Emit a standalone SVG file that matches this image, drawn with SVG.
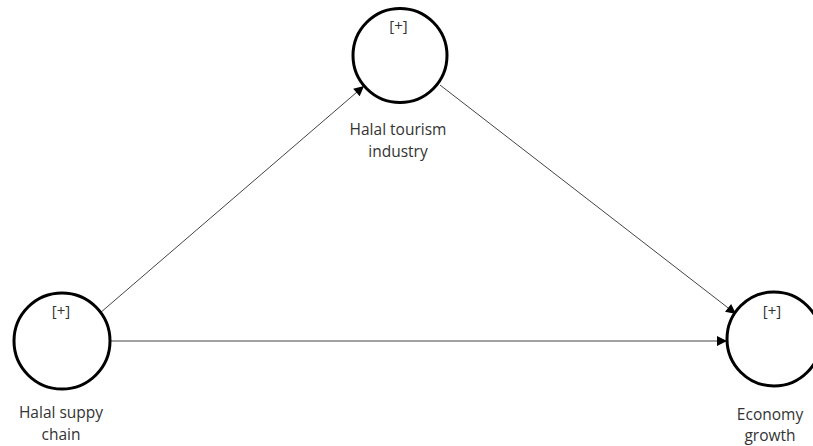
<svg xmlns="http://www.w3.org/2000/svg" width="813" height="446" viewBox="0 0 813 446">
<style>
.node circle{fill:#fff;stroke:#000;stroke-width:3}
.plus{font-family:"Open Sans","Noto Sans",sans-serif;font-size:15px;fill:#333;text-anchor:middle}
.lbl{font-family:"Open Sans","Noto Sans",sans-serif;font-size:15.5px;fill:#333;text-anchor:middle}
.edge{stroke:#444;stroke-width:1;fill:none;marker-end:url(#ah)}
</style>
<defs>
<marker id="ah" viewBox="0 0 10 10" refX="10" refY="5" markerWidth="12" markerHeight="10" markerUnits="userSpaceOnUse" orient="auto">
<path d="M0,0 L10,5 L0,10 Z" fill="#000"/>
</marker>
</defs>
<rect width="813" height="446" fill="#fff"/>
<g id="connectors">
<line class="edge" x1="100" y1="313" x2="364" y2="86"/>
<line class="edge" x1="440" y1="85" x2="736" y2="314"/>
<line class="edge" x1="111" y1="341" x2="727" y2="341"/>
</g>
<g id="node-tourism" class="node">
<circle cx="400" cy="55.5" r="47"/>
<text class="plus" x="398.5" y="31">[+]</text>
<text class="lbl" x="398" y="135">Halal tourism</text>
<text class="lbl" x="398" y="157">industry</text>
</g>
<g id="node-supply" class="node">
<circle cx="62" cy="341" r="48"/>
<text class="plus" x="61" y="316">[+]</text>
<text class="lbl" x="61" y="418">Halal suppy</text>
<text class="lbl" x="61" y="440">chain</text>
</g>
<g id="node-growth" class="node">
<circle cx="774" cy="339" r="47"/>
<text class="plus" x="772" y="316">[+]</text>
<text class="lbl" x="770" y="420">Economy</text>
<text class="lbl" x="770" y="441">growth</text>
</g>
</svg>
